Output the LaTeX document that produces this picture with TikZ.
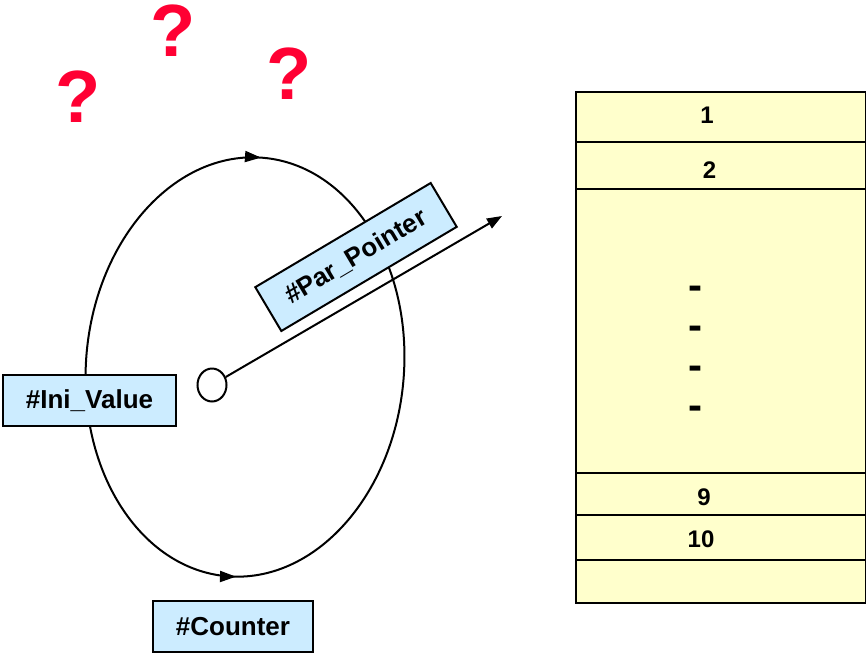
\documentclass[tikz,border=0pt]{standalone}
\usepackage{fontspec}
\setmainfont{Liberation Sans}
\usetikzlibrary{arrows.meta,decorations.markings,shapes.geometric}
\definecolor{lblue}{HTML}{CCECFF}
\definecolor{lyellow}{HTML}{FFFFCC}
\definecolor{qred}{HTML}{FF0033}
\tikzset{
 lbl/.style={draw=black, line width=2pt, fill=lblue, font=\fontsize{26}{30}\selectfont\bfseries, inner sep=0pt, minimum height=51pt},
 cell/.style={draw=black, line width=2pt, fill=lyellow, anchor=north west, minimum width=290pt, inner sep=0pt},
 num/.style={font=\fontsize{24}{28}\selectfont\bfseries, inner sep=0pt},
 dsh/.style={font=\fontsize{42}{46}\selectfont\bfseries, inner sep=0pt, anchor=base},
 qm/.style={text=qred, font=\fontsize{74}{80}\selectfont\bfseries, inner sep=0pt},
 tipa/.style={-{Triangle[length=15pt,width=11pt]}},
 loopline/.style={line width=2pt, postaction={decorate}, decoration={markings,
   mark=at position 0.252 with {\arrowreversed{Triangle[length=16pt,width=11pt]}},
   mark=at position 0.758 with {\arrow{Triangle[length=16pt,width=11pt]}}}},
}
\begin{document}
\begin{tikzpicture}[x=1pt,y=1pt]
\useasboundingbox (0,0) rectangle (866,-653);
% question marks
\node[qm] (q1) at (78,-97) {?};
\node[qm] (q2) at (173,-31) {?};
\node[qm] (q3) at (289,-74) {?};
% loop
\draw[loopline, rotate around={-5:(245,-367)}] (245,-367) ellipse [x radius=159, y radius=210];
% pointer
\node[draw, line width=2pt, ellipse, minimum width=29pt, minimum height=33pt, inner sep=0pt] (hole) at (212,-385) {};
\coordinate (ptip) at (502,-216);
\draw[line width=2pt, tipa] (hole) -- (ptip);
% labels
\node[lbl, rotate=30.7, minimum width=204pt] (par) at (356,-257) {\#Par\_Pointer};
\node[lbl, minimum width=173pt] (ini) at (89.5,-400.5) {\#Ini\_Value};
\node[lbl, minimum width=160pt] (cnt) at (233,-626.5) {\#Counter};
% table
\node[cell, minimum height=50pt] (r1) at (575,-91) {};
\node[cell, minimum height=47pt] (r2) at (575,-141) {};
\node[cell, minimum height=284pt] (r3) at (575,-188) {};
\node[cell, minimum height=42pt] (r4) at (575,-472) {};
\node[cell, minimum height=45pt] (r5) at (575,-514) {};
\node[cell, minimum height=43pt] (r6) at (575,-559) {};
\node[num] (n1) at (707,-115) {1};
\node[num] (n2) at (709.5,-170) {2};
\node[dsh] (d1) at (695.5,-299) {-};
\node[dsh] (d2) at (695.5,-339) {-};
\node[dsh] (d3) at (695.5,-379) {-};
\node[dsh] (d4) at (695.5,-419) {-};
\node[num] (n9) at (704,-497) {9};
\node[num] (n10) at (701,-539) {10};
\end{tikzpicture}
\end{document}
